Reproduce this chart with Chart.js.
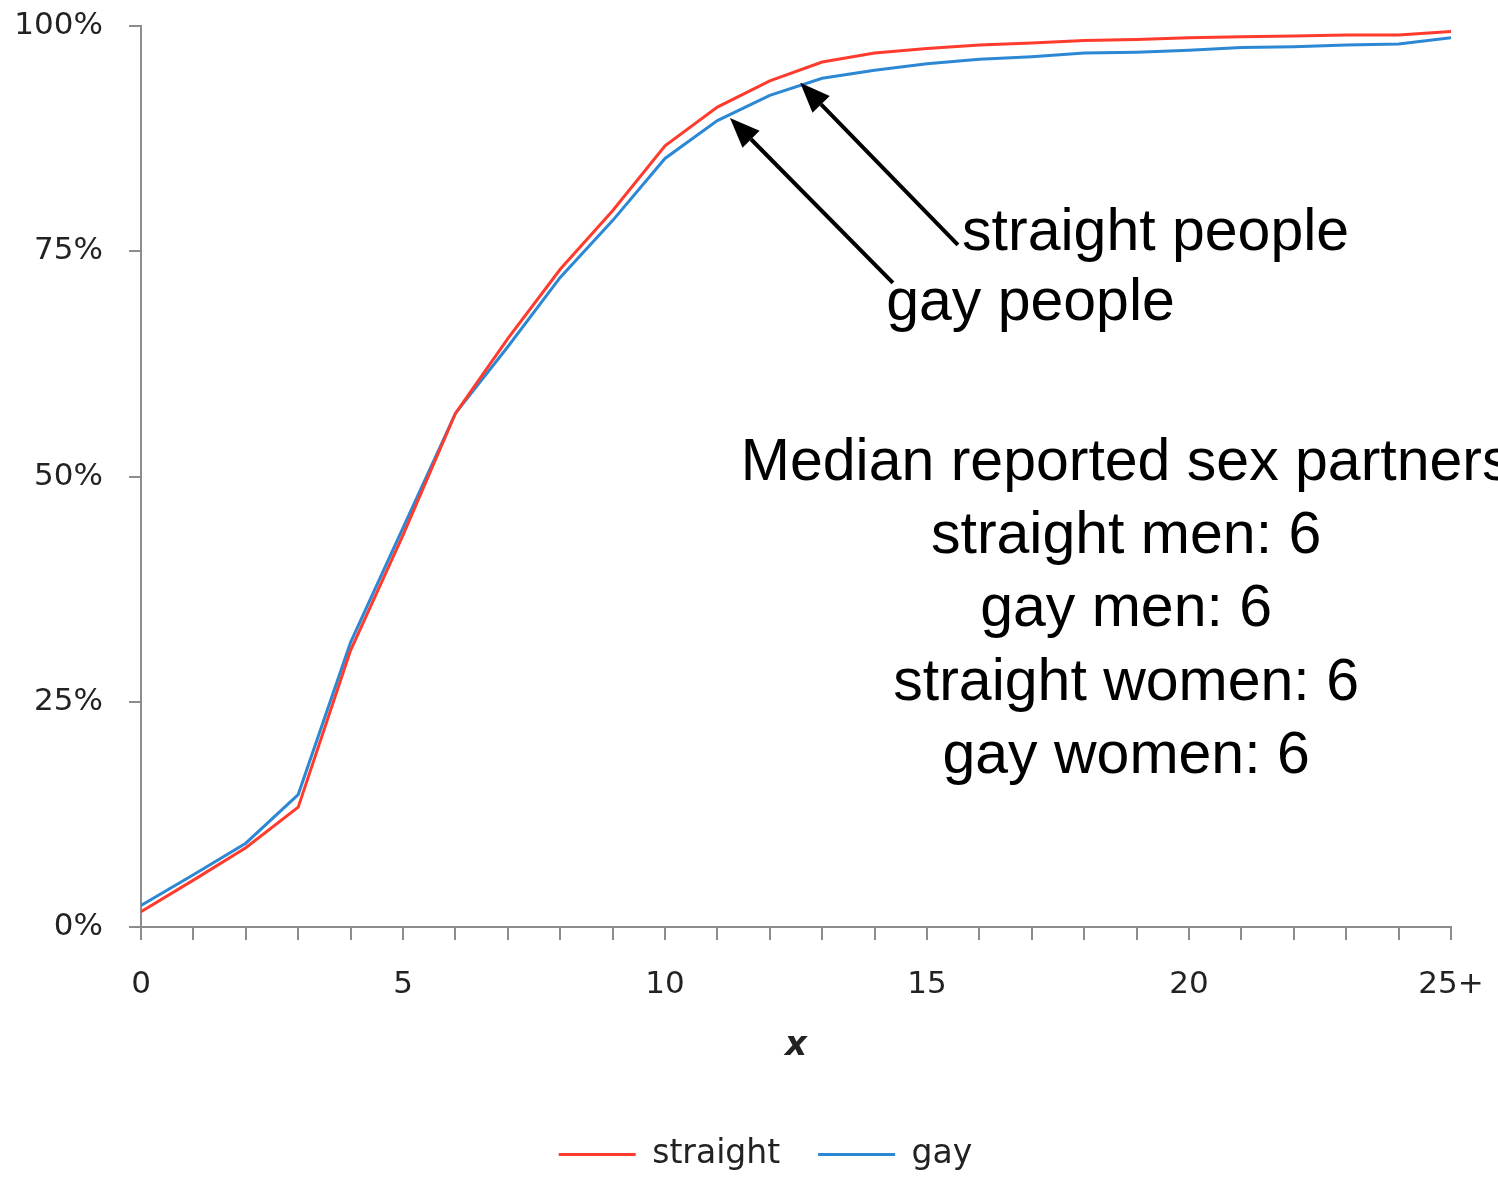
<!DOCTYPE html>
<html>
<head>
<meta charset="utf-8">
<script src="https://cdn.jsdelivr.net/npm/chart.js@4/dist/chart.umd.min.js"></script>
<style>
  html, body { margin: 0; padding: 0; background: #fff; }
  #wrap { width: 1498px; height: 1181px; }
</style>
</head>
<body>
<div id="wrap"><canvas id="cdf"></canvas></div>
<script>
// number of partners (x), 25 = "25+"
const partners = [0,1,2,3,4,5,6,7,8,9,10,11,12,13,14,15,16,17,18,19,20,21,22,23,24,25];
// cumulative share of people, %
const straightPct = [1.7, 5.2, 8.8, 13.3, 30.7, 43.5, 57.0, 65.3, 73.0, 79.5, 86.7, 91.0, 93.9, 96.0, 97.0, 97.5, 97.9, 98.1, 98.4, 98.5, 98.7, 98.8, 98.9, 99.0, 99.0, 99.4];
const gayPct      = [2.4, 5.8, 9.3, 14.7, 31.6, 44.3, 57.0, 64.4, 72.1, 78.4, 85.3, 89.5, 92.3, 94.2, 95.1, 95.8, 96.3, 96.6, 97.0, 97.1, 97.3, 97.6, 97.7, 97.9, 98.0, 98.7];
const yTicks = [0, 25, 50, 75, 100];
const xLabels = { 0: '0', 5: '5', 10: '10', 15: '15', 20: '20', 25: '25+' };

// callouts: arrow tail -> tip, in data units
const arrows = [
  { from: [15.59, 75.7], to: [12.58, 93.7] },  // straight people
  { from: [14.35, 71.5], to: [11.24, 89.8] }   // gay people
];
const calloutText = [
  { text: 'straight people', x: 15.67, y: 75.1, align: 'left' },
  { text: 'gay people', x: 14.22, y: 67.4, align: 'left' }
];
const medianLines = ['Median reported sex partners', 'straight men: 6', 'gay men: 6', 'straight women: 6', 'gay women: 6'];
const medianX = 18.8;
const medianY = [49.6, 41.5, 33.4, 25.2, 17.1];

const RED = '#ff3b2e';
const BLUE = '#2d88d4';
const AXIS = '#8c8c8c';
const tickFont = { family: '"DejaVu Sans"', size: 31 };

const annotate = {
  id: 'annotate',
  afterLayout(chart) {
    // legend sits a little right of centre in the original
    chart.legend.left += 40;
    chart.legend.right += 40;
  },
  afterDatasetsDraw(chart) {
    const { ctx, scales: { x, y } } = chart;
    ctx.save();
    ctx.strokeStyle = '#000';
    ctx.fillStyle = '#000';
    ctx.lineWidth = 4;
    arrows.forEach(a => {
      const x0 = x.getPixelForValue(a.from[0]), y0 = y.getPixelForValue(a.from[1]);
      const x1 = x.getPixelForValue(a.to[0]), y1 = y.getPixelForValue(a.to[1]);
      const ang = Math.atan2(y1 - y0, x1 - x0);
      const len = 30, hw = 12;
      const bx = x1 - len * Math.cos(ang), by = y1 - len * Math.sin(ang);
      ctx.beginPath();
      ctx.moveTo(x0, y0);
      ctx.lineTo(bx, by);
      ctx.stroke();
      ctx.beginPath();
      ctx.moveTo(x1, y1);
      ctx.lineTo(bx + hw * Math.sin(ang), by - hw * Math.cos(ang));
      ctx.lineTo(bx - hw * Math.sin(ang), by + hw * Math.cos(ang));
      ctx.closePath();
      ctx.fill();
    });
    ctx.font = '59px "Liberation Sans", Arial, sans-serif';
    ctx.textBaseline = 'alphabetic';
    calloutText.forEach(t => {
      ctx.textAlign = t.align;
      ctx.fillText(t.text, x.getPixelForValue(t.x), y.getPixelForValue(t.y));
    });
    ctx.textAlign = 'center';
    medianLines.forEach((s, i) => {
      ctx.fillText(s, x.getPixelForValue(medianX), y.getPixelForValue(medianY[i]));
    });
    ctx.restore();
  }
};

new Chart(document.getElementById('cdf'), {
  type: 'line',
  data: {
    datasets: [
      {
        label: 'straight',
        data: partners.map((p, i) => ({ x: p, y: straightPct[i] })),
        borderColor: RED,
        backgroundColor: RED,
        borderWidth: 3,
        pointRadius: 0,
        tension: 0
      },
      {
        label: 'gay',
        data: partners.map((p, i) => ({ x: p, y: gayPct[i] })),
        borderColor: BLUE,
        backgroundColor: BLUE,
        borderWidth: 3,
        pointRadius: 0,
        tension: 0
      }
    ]
  },
  options: {
    responsive: true,
    maintainAspectRatio: false,
    animation: false,
    layout: { padding: { top: 26, right: 47, left: 0, bottom: 0 } },
    plugins: {
      tooltip: { enabled: false },
      legend: {
        position: 'bottom',
        labels: {
          boxWidth: 77,
          boxHeight: 3,
          padding: 38,
          color: '#222',
          font: { family: '"DejaVu Sans"', size: 33 },
          generateLabels(chart) {
            return Chart.defaults.plugins.legend.labels.generateLabels(chart).map(l => {
              l.lineWidth = 0;
              return l;
            });
          }
        }
      }
    },
    scales: {
      x: {
        type: 'linear',
        min: 0,
        max: 25,
        afterFit(s) { s.height = 173; s.paddingLeft = 0; s.paddingRight = 0; },
        border: { color: AXIS, width: 2 },
        grid: { drawOnChartArea: false, color: AXIS, lineWidth: 2, tickLength: 13 },
        ticks: {
          stepSize: 1,
          autoSkip: false,
          maxRotation: 0,
          padding: 26,
          color: '#222',
          font: tickFont,
          callback: v => (xLabels[v] !== undefined ? xLabels[v] : '')
        },
        title: {
          display: true,
          text: 'x',
          color: '#222',
          font: { family: '"DejaVu Sans"', size: 34, style: 'italic', weight: 'bold' },
          padding: { top: 0, bottom: 33 }
        }
      },
      y: {
        min: 0,
        max: 100,
        afterFit(s) { s.width = 141; s.paddingTop = 0; s.paddingBottom = 0; },
        afterBuildTicks(s) { s.ticks = yTicks.map(v => ({ value: v })); },
        border: { color: AXIS, width: 2 },
        grid: { drawOnChartArea: false, color: AXIS, lineWidth: 2, tickLength: 12 },
        ticks: {
          padding: 26,
          color: '#222',
          font: tickFont,
          callback: v => v + '%'
        }
      }
    }
  },
  plugins: [annotate]
});
</script>
</body>
</html>
